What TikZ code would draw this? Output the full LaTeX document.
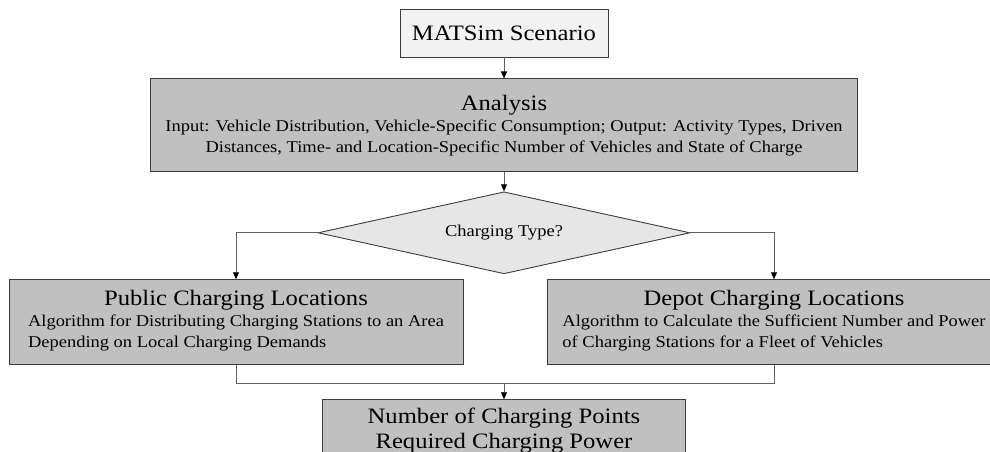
\documentclass[tikz,border=0pt]{standalone}
\usepackage{fontspec}
\setmainfont{Liberation Serif}[FakeStretch=1.12]
\usepackage{tikz}
\usetikzlibrary{arrows.meta,positioning,shapes.geometric}

\definecolor{boxgray}{RGB}{192,192,192}
\definecolor{scenfill}{RGB}{242,242,242}
\definecolor{diamfill}{RGB}{230,230,230}
\definecolor{edgegray}{RGB}{60,60,60}
\definecolor{linegray}{RGB}{95,95,95}

\newcommand{\titlefont}{\fontsize{22}{25}\selectfont}
\newcommand{\notefont}{\fontsize{16.5}{21}\selectfont}
\newcommand{\leftlines}[1]{\begin{tabular}{@{}l@{}}#1\end{tabular}}

\begin{document}
\begin{tikzpicture}
[ x=1pt, y=-1pt, node distance=20pt and 20pt,
		process/.style={rectangle,draw=edgegray,line width=0.9pt,fill=boxgray,inner sep=0pt,align=center,font=\notefont},
		decision/.style={diamond,aspect=4.5,draw=edgegray,line width=0.9pt,fill=diamfill,inner sep=0pt,minimum width=372pt,minimum height=82pt,font=\notefont},
		arrowOut/.style={-{Triangle[length=7pt,width=6pt,color=black]},draw=linegray,line width=0.8pt},
		joinLine/.style={draw=linegray,line width=0.8pt}]

	\useasboundingbox (0,0) rectangle (990,452);

	\node[process,fill=scenfill,minimum width=208pt,minimum height=48pt,font=\titlefont] (scenario) at (504,33) {MATSim Scenario};
	\node[process,minimum width=707pt,minimum height=93pt] (analysis) [below=21pt of scenario] {{\titlefont Analysis}\\ Input: Vehicle Distribution, Vehicle-Specific Consumption; Output: Activity Types, Driven\\ Distances, Time- and Location-Specific Number of Vehicles and State of Charge};
	\node[decision] (type) [below=19pt of analysis] {Charging Type?};
	\node[process,minimum width=454pt,minimum height=85pt] (public) [below=5pt of type,xshift=-268pt] {{\titlefont Public Charging Locations}\\ \leftlines{Algorithm for Distributing Charging Stations to an Area\\ Depending on Local Charging Demands}};
	\node[process,minimum width=454pt,minimum height=85pt] (depot) [below=5pt of type,xshift=270pt] {{\titlefont Depot Charging Locations}\\ \leftlines{Algorithm to Calculate the Sufficient Number and Power\\ of Charging Stations for a Fleet of Vehicles}};
	\node[process,minimum width=363pt,minimum height=62pt,font=\titlefont] (result) [below=125pt of type] {Number of Charging Points\\ Required Charging Power};

	\draw[arrowOut] (scenario) -- (analysis);
	\draw[arrowOut] (analysis) -- (type);
	\draw[arrowOut] (type.west) -| (public.north);
	\draw[arrowOut] (type.east) -| (depot.north);
	\path (public.south -| type.south) ++(0,18) coordinate (join);
	\draw[joinLine] (public.south) |- (join) -| (depot.south);
	\draw[arrowOut] (join) -- (result);
\end{tikzpicture}
\end{document}
